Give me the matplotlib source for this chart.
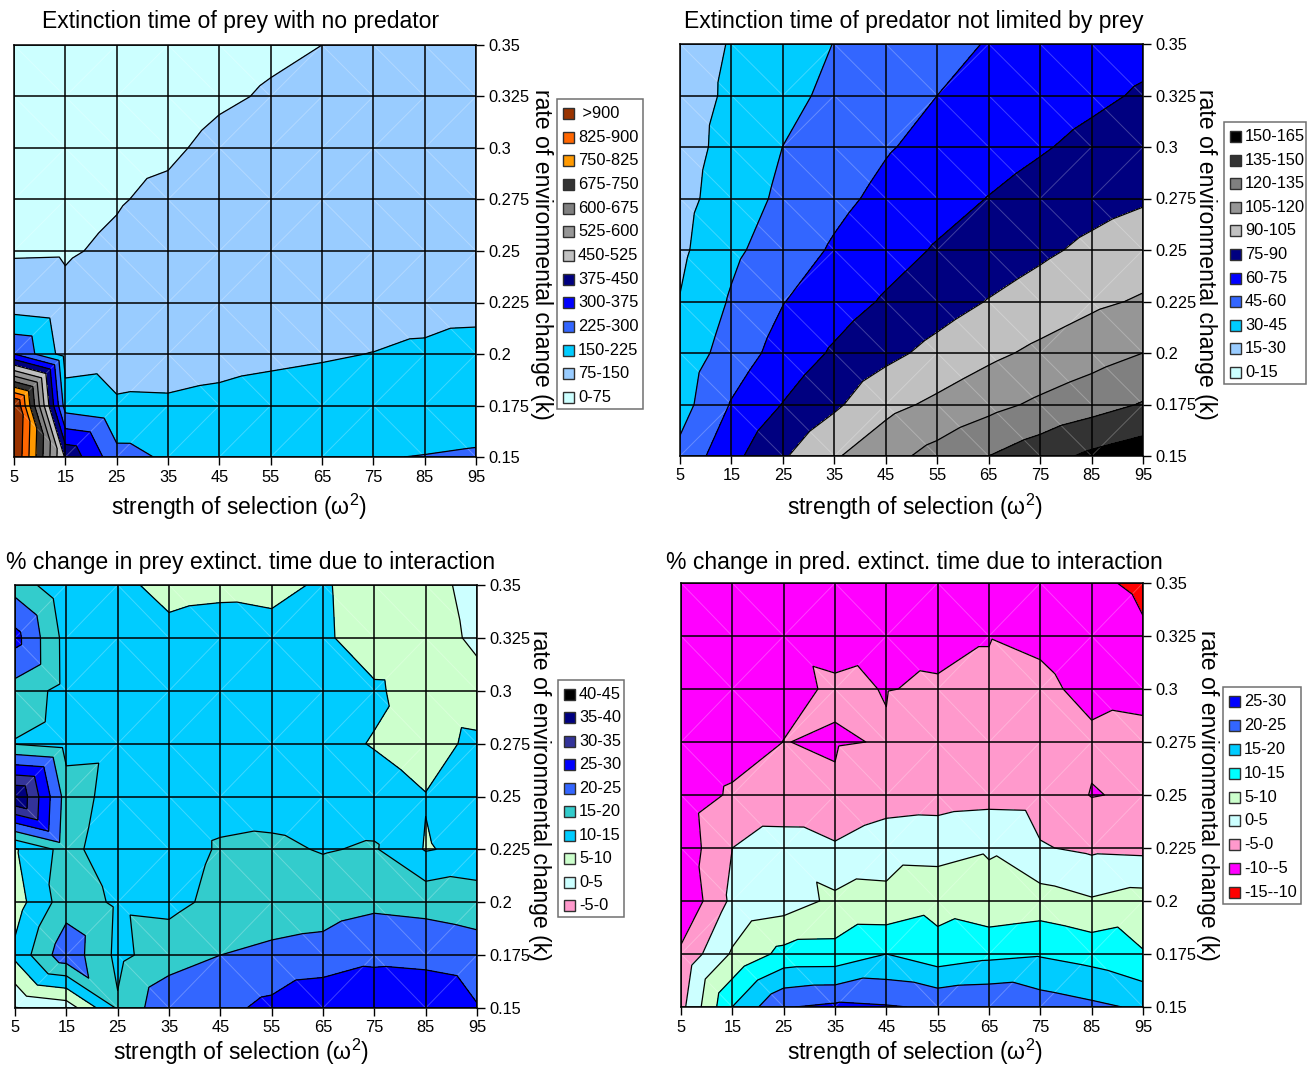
import matplotlib
matplotlib.use('Agg')
import matplotlib.pyplot as plt
import matplotlib.tri as mtri
from matplotlib.patches import Rectangle
import numpy as np

plt.rcParams['font.family'] = ['Liberation Sans', 'DejaVu Sans']
plt.rcParams['mathtext.default'] = 'regular'

W, H = 1307, 1065

omega = [5, 15, 25, 35, 45, 55, 65, 75, 85, 95]
rate = [0.35, 0.325, 0.3, 0.275, 0.25, 0.225, 0.2, 0.175, 0.15]
rate_labels = ['0.35', '0.325', '0.3', '0.275', '0.25', '0.225', '0.2', '0.175', '0.15']

# rows run from k=0.35 down to k=0.15
prey_time = [
    [35, 38, 45, 50, 60, 68, 75, 80, 85, 90],
    [42, 46, 52, 54, 69, 79, 84, 90, 95, 100],
    [50, 54, 62, 68, 86, 92, 96, 100, 104, 108],
    [60, 62, 72, 84, 92, 103, 105, 108, 112, 116],
    [70, 71, 82, 97, 108, 112, 113, 116, 120, 124],
    [105, 85, 100, 115, 120, 122, 124, 126, 128, 130],
    [300, 115, 125, 131, 135, 140, 145, 151, 160, 172],
    [1000, 190, 157, 156, 162, 170, 175, 180, 185, 190],
    [985, 435, 250, 215, 216, 218, 220, 222, 227, 233],
]
pred_time = [
    [23.5, 30.8, 38, 45.3, 50.5, 55.6, 60.8, 64.5, 68, 71],
    [23.7, 32.3, 41, 48.2, 54.1, 60, 64, 68, 72.2, 76.5],
    [24.2, 34.7, 45.1, 52, 58.9, 64, 68.9, 73.7, 78.7, 83],
    [25.4, 37.3, 48, 56.4, 63.5, 69.5, 75.4, 80.6, 85, 88.5],
    [27.2, 41.9, 52.6, 61.7, 69.2, 76.3, 81.9, 87.4, 93, 97.5],
    [30.5, 46.6, 59.5, 68.3, 76.6, 83.7, 90.6, 96.3, 102.3, 106.5],
    [35.5, 51.8, 65.8, 76.9, 86.2, 94.3, 101.7, 108.2, 114, 120],
    [39, 61, 75.5, 87.5, 100.7, 108, 115.6, 122.7, 129, 136],
    [49, 70.7, 88.3, 103.4, 114.8, 125.2, 135, 143.9, 153, 159],
]
prey_change = [
    [18, 11, 11, 8.7, 9, 8.3, 10.8, 6.4, 6.2, 3.9],
    [26.7, 13.2, 12, 11.2, 12, 12.1, 11, 6.7, 6.5, 4.4],
    [18, 13.3, 12, 12, 12.5, 12.5, 12, 10.9, 7, 6.1],
    [14.7, 12.9, 13.3, 12.5, 12.8, 12.8, 11.5, 9.7, 7.8, 11.3],
    [40.5, 17.9, 12.6, 12.5, 13.3, 13, 12.5, 12.3, 10.2, 12.5],
    [9.5, 16.9, 11.3, 12.5, 15.5, 15.9, 14.7, 15.5, 9.67, 11.3],
    [7.7, 17.8, 14.2, 13.8, 16.2, 17.5, 17.9, 19, 18.5, 17.6],
    [11.25, 23.4, 13.8, 17.5, 20, 21, 21.7, 23.8, 23.3, 22.2],
    [-0.3, 2, 15.6, 24, 23.6, 26.3, 29.5, 29, 29.4, 25.3],
]
pred_change = [
    [-8.5, -7.5, -7, -6.8, -7, -6.5, -6.5, -7, -9.2, -10.8],
    [-8, -7, -5.4, -5.7, -5.38, -5.5, -5.05, -5.65, -7, -9.5],
    [-8, -6.5, -5.6, -4.7, -5.06, -4.8, -4.8, -4.2, -6, -6.5],
    [-8, -6.9, -4.97, -5.18, -4.88, -3.5, -3.5, -3.2, -4.3, -3.5],
    [-7.6, -4.4, -4.6, -4.7, -2.75, -2.1, -1.7, -1.87, -5.2, -4.4],
    [-8.3, 0, 3.07, 0.7, 3.5, 3.3, 4.6, 0.33, -0.86, -1.2],
    [-9.6, 1.1, 2.5, 6.07, 5.9, 8.15, 6.4, 7.3, 5.47, 7],
    [-4, 5.6, 11.5, 11.6, 15.02, 12, 13.7, 14.54, 13.1, 10.3],
    [-1.5, 15.05, 24.7, 26, 25.4, 24.4, 24.8, 22.6, 21, 19.3],
]

prey_levels = [0, 75, 150, 225, 300, 375, 450, 525, 600, 675, 750, 825, 900, 1100]
prey_colors = ['#CCFFFF', '#99CCFF', '#00CCFF', '#3366FF', '#0000FF', '#000080', '#C0C0C0',
               '#969696', '#808080', '#333333', '#FF9900', '#FF6600', '#993300']
prey_names = ['0-75', '75-150', '150-225', '225-300', '300-375', '375-450', '450-525',
              '525-600', '600-675', '675-750', '750-825', '825-900', ' >900']

pred_levels = [0, 15, 30, 45, 60, 75, 90, 105, 120, 135, 150, 165]
pred_colors = ['#CCFFFF', '#99CCFF', '#00CCFF', '#3366FF', '#0000FF', '#000080', '#C0C0C0',
               '#969696', '#808080', '#333333', '#000000']
pred_names = ['0-15', '15-30', '30-45', '45-60', '60-75', '75-90', '90-105',
              '105-120', '120-135', '135-150', '150-165']

prey_ch_levels = [-5, 0, 5, 10, 15, 20, 25, 30, 35, 40, 45]
prey_ch_colors = ['#FF99CC', '#CCFFFF', '#CCFFCC', '#00CCFF', '#33CCCC', '#3366FF',
                  '#0000FF', '#333399', '#000080', '#000000']
prey_ch_names = ['-5-0', '0-5', '5-10', '10-15', '15-20', '20-25', '25-30', '30-35', '35-40', '40-45']

pred_ch_levels = [-15, -10, -5, 0, 5, 10, 15, 20, 25, 30]
pred_ch_colors = ['#FF0000', '#FF00FF', '#FF99CC', '#CCFFFF', '#CCFFCC', '#00FFFF',
                  '#00CCFF', '#3366FF', '#0000FF']
pred_ch_names = ['-15--10', '-10--5', '-5-0', '0-5', '5-10', '10-15', '15-20', '20-25', '25-30']


def make_tri(z):
    # every cell is cut along one diagonal: the pair of corners with the larger sum
    z = np.array(z, dtype=float)
    nr, nc = z.shape
    xs = np.tile(omega, nr).astype(float)
    ys = np.repeat(rate, nc)
    tris = []
    seams = []
    for r in range(nr - 1):
        for c in range(nc - 1):
            a, b = r * nc + c, r * nc + c + 1
            d, e = (r + 1) * nc + c, (r + 1) * nc + c + 1
            if z[r, c] + z[r + 1, c + 1] >= z[r, c + 1] + z[r + 1, c]:
                tris += [[a, b, e], [a, e, d]]
                seams.append((a, e))
            else:
                tris += [[a, b, d], [b, e, d]]
                seams.append((b, d))
    return mtri.Triangulation(xs, ys, tris), z.ravel(), xs, ys, seams


def px_axes(x0, y0, x1, y1):
    return fig.add_axes([x0 / W, 1 - y1 / H, (x1 - x0) / W, (y1 - y0) / H])


def panel(box, z, levels, colors):
    ax = px_axes(*box)
    tri, zs, xs, ys, seams = make_tri(z)
    ax.tricontourf(tri, zs, levels=levels, colors=colors, zorder=1)
    ax.tricontour(tri, zs, levels=levels[1:-1], colors='black', linewidths=0.9,
                  linestyles='solid', zorder=2)
    # faint seams that show up along the cell diagonals
    for p, q in seams:
        ax.plot([xs[p], xs[q]], [ys[p], ys[q]], color='white', lw=0.7, alpha=0.25, zorder=1.5)
    ax.set_xlim(5, 95)
    ax.set_ylim(0.15, 0.35)
    ax.set_xticks(omega)
    ax.set_yticks(rate)
    ax.set_yticklabels(rate_labels)
    ax.yaxis.tick_right()
    ax.tick_params(length=6, width=1, labelsize=11.8, pad=3)
    ax.set_axisbelow(False)
    ax.grid(True, color='black', lw=1.1)
    for s in ax.spines.values():
        s.set_linewidth(1.1)
    return ax


def legend(x0, y0, x1, y1, names, colors):
    fig.add_artist(Rectangle((x0 / W, 1 - y1 / H), (x1 - x0) / W, (y1 - y0) / H, transform=fig.transFigure,
                             facecolor='white', edgecolor='#707070', lw=1.1))
    first, last = y0 + 14.5, y1 - 11.5
    step = (last - first) / (len(names) - 1)
    for i, (name, col) in enumerate(zip(names[::-1], colors[::-1])):
        yc = first + i * step
        fig.add_artist(Rectangle(((x0 + 6) / W, 1 - (yc + 5.5) / H), 11 / W, 11 / H, transform=fig.transFigure,
                                 facecolor=col, edgecolor='#303030', lw=1))
        fig.text((x0 + 21) / W, 1 - yc / H, name, fontsize=11.8, va='center', ha='left')


def ftext(x, y, s, **kw):
    fig.text(x / W, 1 - y / H, s, va='center', **kw)


fig = plt.figure(figsize=(W / 100, H / 100), dpi=100)

panel((14, 45, 476, 457), prey_time, prey_levels, prey_colors)
panel((680, 44, 1143, 456), pred_time, pred_levels, pred_colors)
panel((15, 585, 477, 1008), prey_change, prey_ch_levels, prey_ch_colors)
panel((681, 583, 1143, 1007), pred_change, pred_ch_levels, pred_ch_colors)

legend(557, 99, 643, 409, prey_names, prey_colors)
legend(1224, 122, 1306, 384, pred_names, pred_colors)
legend(558, 680, 624, 917, prey_ch_names, prey_ch_colors)
legend(1223, 687, 1301, 904, pred_ch_names, pred_ch_colors)

ftext(42, 21.5, 'Extinction time of prey with no predator', fontsize=16.55, ha='left')
ftext(684, 21.5, 'Extinction time of predator not limited by prey', fontsize=16.55, ha='left')
ftext(6, 562.5, '% change in prey extinct. time due to interaction', fontsize=16.55, ha='left')
ftext(666, 562.5, '% change in pred. extinct. time due to interaction', fontsize=16.55, ha='left')

xlab = 'strength of selection (ω$^{2}$)'
ylab = 'rate of environmental change (k)'
for x, y in [(239, 506.5), (915, 506.5), (241, 1052), (915, 1052)]:
    ftext(x, y, xlab, fontsize=16.55, ha='center')
for x, y in [(541, 254), (1206, 254), (540, 795), (1207, 795)]:
    ftext(x, y, ylab, fontsize=16.55, ha='center', rotation=270)

fig.savefig('out.png', dpi=100)
